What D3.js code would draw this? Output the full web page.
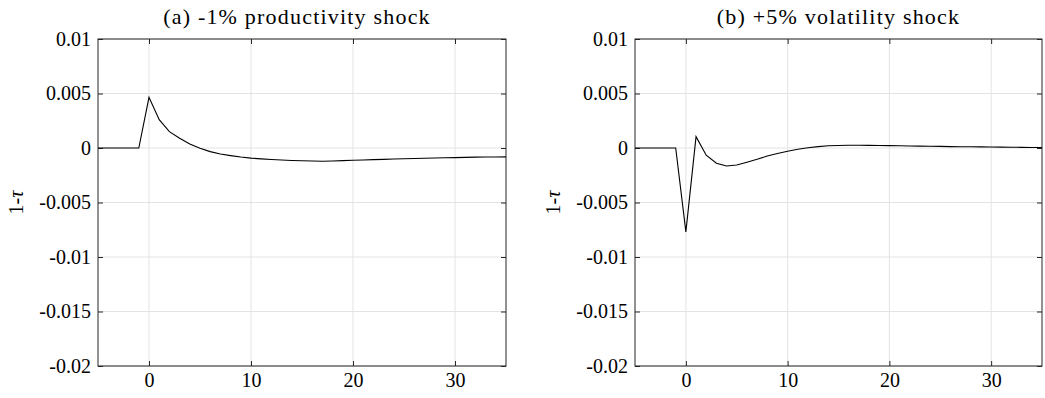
<!DOCTYPE html>
<html>
<head>
<meta charset="utf-8">
<script src="https://cdn.jsdelivr.net/npm/d3@7"></script>
<style>
  body { margin: 0; background: #fff; }
  svg { display: block; }
</style>
</head>
<body>
<svg id="chart" width="1045" height="398"></svg>
<script>
// periods after the shock
var periods = d3.range(-5, 36);

// (a) -1% productivity shock, response of 1-tau
var productivity = [
  0, 0, 0, 0, 0,
  0.00465, 0.0026, 0.0015, 0.0009, 0.00037,
  -0.00003, -0.00033, -0.00055, -0.0007, -0.00083,
  -0.00093, -0.001, -0.00105, -0.0011, -0.00114,
  -0.00117, -0.00119, -0.00122, -0.00119, -0.00116,
  -0.00113, -0.0011, -0.00107, -0.00104, -0.00101,
  -0.00099, -0.00097, -0.00094, -0.00092, -0.0009,
  -0.00088, -0.00086, -0.00084, -0.00083, -0.00082,
  -0.00081
];

// (b) +5% volatility shock, response of 1-tau
var volatility = [
  0, 0, 0, 0, 0,
  -0.0077, 0.00104, -0.00066, -0.0014, -0.00165,
  -0.00156, -0.0013, -0.00104, -0.00074, -0.0005,
  -0.0003, -0.00012, 0.00003, 0.00013, 0.0002,
  0.00023, 0.00025, 0.00025, 0.00024, 0.00023,
  0.00022, 0.0002, 0.00019, 0.00017, 0.00016,
  0.00015, 0.00013, 0.00012, 0.00011, 0.0001,
  0.00009, 0.00008, 0.00007, 0.00006, 0.00005,
  0.00004
];

var titles = ["(a) -1% productivity shock", "(b) +5% volatility shock"];
var xTicks = [0, 10, 20, 30];
var yTicks = [0.01, 0.005, 0, -0.005, -0.01, -0.015, -0.02];
var yTickLabels = ["0.01", "0.005", "0", "-0.005", "-0.01", "-0.015", "-0.02"];

var svg = d3.select("#chart");
var fontName = "'Liberation Serif'";

var panels = [
  { left: 98, right: 506, titleShift: -5, title: titles[0], values: productivity },
  { left: 635, right: 1042, titleShift: 0, title: titles[1], values: volatility }
];
var plotTop = 39, plotBottom = 366, tickLen = 5;

panels.forEach(function(p) {
  var x = d3.scaleLinear().domain([-5, 35]).range([p.left, p.right]);
  var y = d3.scaleLinear().domain([-0.02, 0.01]).range([plotBottom, plotTop]);
  var g = svg.append("g");

  // grid
  g.selectAll("line.gx").data(xTicks).enter().append("line")
    .attr("x1", function(d) { return x(d); }).attr("x2", function(d) { return x(d); })
    .attr("y1", plotTop).attr("y2", plotBottom)
    .attr("stroke", "#e3e3e3").attr("stroke-width", 1);
  g.selectAll("line.gy").data(yTicks).enter().append("line")
    .attr("x1", p.left).attr("x2", p.right)
    .attr("y1", function(d) { return y(d); }).attr("y2", function(d) { return y(d); })
    .attr("stroke", "#e3e3e3").attr("stroke-width", 1);

  // axes with inward ticks, mirrored on top and right
  var ax = d3.axisBottom(x).tickValues(xTicks).tickSize(-tickLen).tickPadding(7)
    .tickFormat(d3.format("d"));
  var axTop = d3.axisTop(x).tickValues(xTicks).tickSize(-tickLen).tickFormat("");
  var ay = d3.axisLeft(y).tickValues(yTicks).tickSize(-tickLen).tickPadding(7)
    .tickFormat(function(d, i) { return yTickLabels[i]; });
  var ayRight = d3.axisRight(y).tickValues(yTicks).tickSize(-tickLen).tickFormat("");

  [
    g.append("g").attr("transform", "translate(0," + plotBottom + ")").call(ax),
    g.append("g").attr("transform", "translate(0," + plotTop + ")").call(axTop),
    g.append("g").attr("transform", "translate(" + p.left + ",0)").call(ay),
    g.append("g").attr("transform", "translate(" + p.right + ",0)").call(ayRight)
  ].forEach(function(a) {
    a.attr("font-family", null).attr("font-size", null);
    a.select(".domain").remove();
    a.selectAll(".tick line").attr("stroke", "#262626");
    a.selectAll(".tick text")
      .style("font-family", fontName)
      .style("font-size", "20px")
      .attr("fill", "#000");
  });

  g.append("rect")
    .attr("x", p.left).attr("y", plotTop)
    .attr("width", p.right - p.left).attr("height", plotBottom - plotTop)
    .attr("fill", "none").attr("stroke", "#262626").attr("stroke-width", 1);

  // response line
  var line = d3.line()
    .x(function(d, i) { return x(periods[i]); })
    .y(function(d) { return y(d); });
  g.append("path")
    .datum(p.values)
    .attr("d", line)
    .attr("fill", "none")
    .attr("stroke", "#000")
    .attr("stroke-width", 1.1);

  // title
  g.append("text")
    .attr("x", (p.left + p.right) / 2 + p.titleShift)
    .attr("y", 24)
    .attr("text-anchor", "middle")
    .style("font-family", fontName)
    .style("font-size", "22px")
    .style("letter-spacing", "1.2px")
    .text(p.title);

  // y label
  var yl = g.append("text")
    .attr("transform", "translate(" + (p.left - 75) + "," + ((plotTop + plotBottom) / 2) + ") rotate(-90)")
    .attr("text-anchor", "middle")
    .style("font-family", fontName)
    .style("font-size", "20px");
  yl.append("tspan").text("1-");
  yl.append("tspan").style("font-style", "italic").text("τ");
});
</script>
</body>
</html>
